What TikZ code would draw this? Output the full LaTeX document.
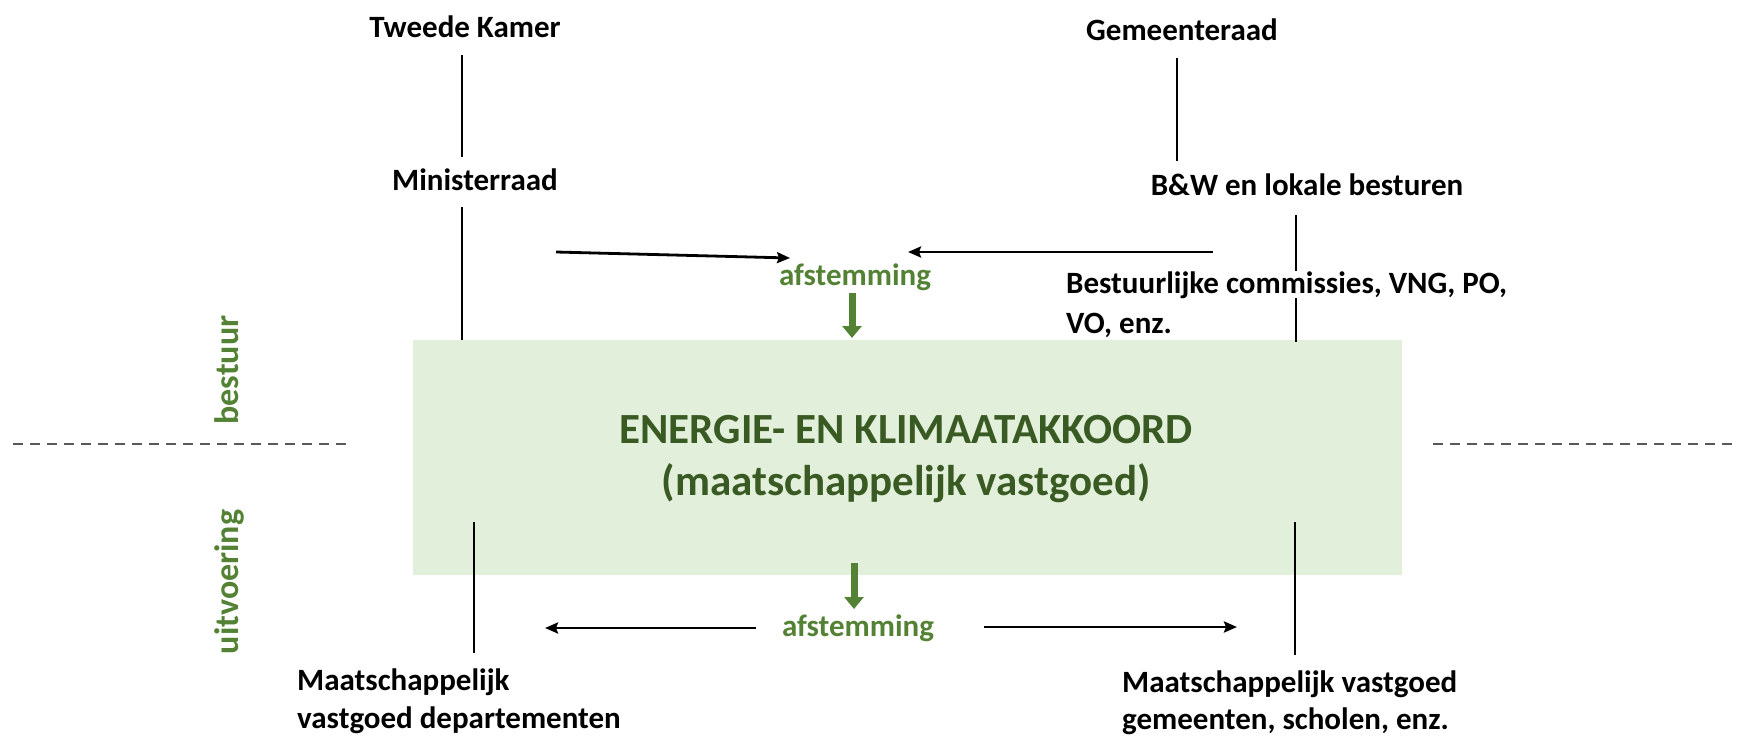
\documentclass[tikz,border=0pt]{standalone}
\usepackage{fontspec}
\setmainfont{Carlito}
\usetikzlibrary{arrows.meta}
\definecolor{boxgreen}{HTML}{E2EFDA}
\definecolor{midgreen}{HTML}{548235}
\definecolor{darkgreen}{HTML}{3A5A24}
\definecolor{dashgray}{HTML}{595959}
\begin{document}
\begin{tikzpicture}[x=1pt,y=-1pt,
  lbl/.style={font=\fontsize{31}{40}\selectfont\bfseries, inner sep=0pt, text=black},
  glbl/.style={font=\fontsize{31}{40}\selectfont\bfseries, inner sep=0pt, text=midgreen},
  side/.style={font=\fontsize{34}{40}\selectfont\bfseries, inner sep=0pt, text=midgreen, rotate=90},
  title/.style={font=\fontsize{43}{52}\selectfont\bfseries, inner sep=0pt, text=darkgreen},
  vline/.style={draw=black, line width=2.6pt},
  blackarrow/.style={draw=black, line width=2.8pt, -{Stealth[length=13pt,width=11pt,inset=2pt]}},
  greenarrow/.style={draw=midgreen, line width=7pt, -{Triangle[length=12pt,width=19pt]}},
  sep/.style={draw=dashgray, line width=1.4pt, dash pattern=on 10pt off 7pt}
]
\useasboundingbox (0,0) rectangle (1737,737);

% central box
\node[fill=boxgreen, draw=none, minimum width=989pt, minimum height=235pt, inner sep=0pt, anchor=north west] (box) at (413,340) {};
\node[title, anchor=base] (t1) at (906,443) {ENERGIE- EN KLIMAATAKKOORD};
\node[title, anchor=base] (t2) at (906,495) {(maatschappelijk vastgoed)};

% left column (national)
\node[lbl, anchor=base] (tk) at (465,37) {Tweede Kamer};
\node[lbl, anchor=base] (min) at (475,190) {Ministerraad};
\coordinate (tkA) at (462,55);
\coordinate (tkB) at (462,157);
\coordinate (minA) at (462,207);
\coordinate (minB) at (462,340);
\draw[vline] (tkA) -- (tkB);
\draw[vline] (minA) -- (minB);

% right column (local)
\node[lbl, anchor=base] (gem) at (1182,40) {Gemeenteraad};
\node[lbl, anchor=base] (bw) at (1307,195) {B\&W en lokale besturen};
\coordinate (gemA) at (1177,58);
\coordinate (gemB) at (1177,161);
\coordinate (bwA) at (1296,215);
\coordinate (bwB) at (1296,342);
\draw[vline] (gemA) -- (gemB);
\draw[vline] (bwA) -- (bwB);
\node[lbl, anchor=base west, fill=white] (bc1) at (1066,293) {Bestuurlijke commissies, VNG, PO,};
\node[lbl, anchor=base west] (bc2) at (1066,333) {VO, enz.};

% top afstemming
\node[glbl, anchor=base] (af1) at (855,285) {afstemming};
\coordinate (a1s) at (556,252);
\coordinate (a1e) at (790,258);
\coordinate (a2s) at (1213,252);
\coordinate (a2e) at (908,252);
\draw[blackarrow] (a1s) -- (a1e);
\draw[blackarrow] (a2s) -- (a2e);
\coordinate (g1s) at (852,293);
\coordinate (g1e) at (852,338);
\draw[greenarrow] (g1s) -- (g1e);

% bottom afstemming
\node[glbl, anchor=base] (af2) at (858,636) {afstemming};
\coordinate (g2s) at (854,563);
\coordinate (g2e) at (854,609);
\draw[greenarrow] (g2s) -- (g2e);
\coordinate (b1s) at (756,628);
\coordinate (b1e) at (545,628);
\coordinate (b2s) at (984,627);
\coordinate (b2e) at (1237,627);
\draw[blackarrow] (b1s) -- (b1e);
\draw[blackarrow] (b2s) -- (b2e);

% bottom columns
\coordinate (blA) at (474,522);
\coordinate (blB) at (474,653);
\coordinate (brA) at (1295,522);
\coordinate (brB) at (1295,655);
\draw[vline] (blA) -- (blB);
\draw[vline] (brA) -- (brB);
\node[lbl, anchor=base west] (mvd1) at (297,690) {Maatschappelijk};
\node[lbl, anchor=base west] (mvd2) at (297,728) {vastgoed departementen};
\node[lbl, anchor=base west] (mvg1) at (1122,692) {Maatschappelijk vastgoed};
\node[lbl, anchor=base west] (mvg2) at (1122,729) {gemeenten, scholen, enz.};

% side labels and separators
\node[side, anchor=base] (best) at (238,370) {bestuur};
\node[side, anchor=base] (uitv) at (238,582) {uitvoering};
\coordinate (dlA) at (13,444);
\coordinate (dlB) at (352,444);
\coordinate (drA) at (1433,444);
\coordinate (drB) at (1737,444);
\draw[sep] (dlA) -- (dlB);
\draw[sep] (drA) -- (drB);
\end{tikzpicture}
\end{document}
